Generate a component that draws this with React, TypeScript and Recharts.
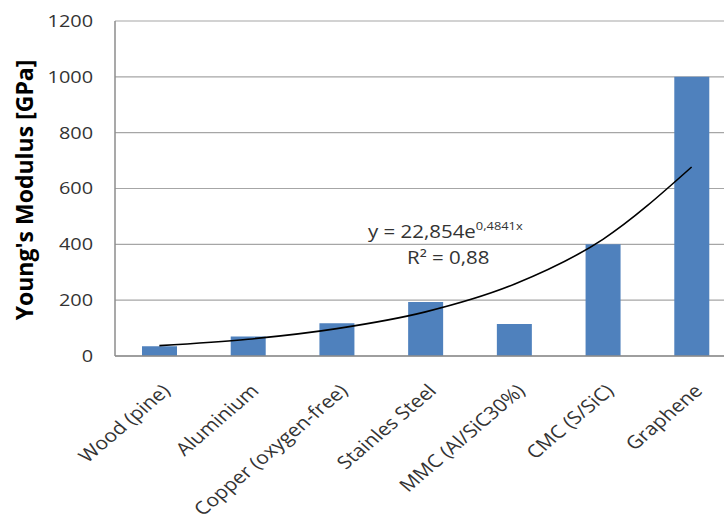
import { ComposedChart, Bar, Line, XAxis, YAxis, CartesianGrid } from 'recharts';

const MATERIALS = [
    'Wood (pine)',
    'Aluminium',
    'Copper (oxygen-free)',
    'Stainles Steel',
    'MMC (Al/SiC30%)',
    'CMC (S/SiC)',
    'Graphene',
];
const MODULUS = [35, 70, 117, 193, 115, 400, 1000];
// exponential trendline as drawn on the chart (read at each category)
const TREND = [37, 60, 98, 158, 257, 418, 677];
const Y_TICKS = [0, 200, 400, 600, 800, 1000, 1200];

const FONT = '"Open Sans", "Noto Sans", sans-serif';
const TEXT = '#333';
// the source picture is slightly stretched sideways
const SX = 1.17;

const data = MATERIALS.map((name, i) => ({ name, modulus: MODULUS[i], trend: TREND[i] }));

const XTick = ({ x, y, payload }: any) => (
    <text
        x={0}
        y={0}
        textAnchor="end"
        transform={`translate(${x + 12}, ${y + 28}) scale(${SX}, 1) rotate(-45)`}
        fill={TEXT}
        fontSize={18}
        fontFamily={FONT}
    >
        {payload.value}
    </text>
);

const YTick = ({ x, y, payload }: any) => (
    <text
        x={0}
        y={0}
        dy="0.35em"
        textAnchor="end"
        transform={`translate(${x}, ${y}) scale(${SX}, 1)`}
        fill={TEXT}
        fontSize={17}
        fontFamily={FONT}
    >
        {payload.value}
    </text>
);

const YLabel = () => (
    <text
        x={33}
        y={190}
        textAnchor="middle"
        transform="rotate(-90, 33, 190)"
        fill="#000"
        fontSize={23}
        fontWeight="bold"
        fontFamily={FONT}
    >
        Young's Modulus [GPa]
    </text>
);

export default function App() {
    return (
        <div style={{ position: 'fixed', left: 0, top: 0, width: 724, height: 527, overflow: 'hidden', background: '#fff' }}>
            <ComposedChart
                width={760}
                height={527}
                data={data}
                margin={{ top: 21, right: 24, bottom: 0, left: 0 }}
            >
                <CartesianGrid vertical={false} stroke="#a6a6a6" strokeWidth={1.2} />
                <XAxis
                    dataKey="name"
                    height={171}
                    interval={0}
                    tickLine={false}
                    axisLine={{ stroke: '#8c8c8c', strokeWidth: 1.5 }}
                    tick={<XTick />}
                />
                <YAxis
                    width={115}
                    domain={[0, 1200]}
                    ticks={Y_TICKS}
                    tickLine={false}
                    axisLine={{ stroke: '#8c8c8c', strokeWidth: 1.5 }}
                    tickMargin={16}
                    tick={<YTick />}
                    label={<YLabel />}
                />
                <Bar dataKey="modulus" fill="#4f81bd" barSize={35} isAnimationActive={false} />
                <Line
                    dataKey="trend"
                    type="monotone"
                    stroke="#000"
                    strokeWidth={1.6}
                    dot={false}
                    isAnimationActive={false}
                />
            </ComposedChart>
            <svg
                width={724}
                height={527}
                style={{ position: 'absolute', left: 0, top: 0, pointerEvents: 'none' }}
            >
                <g transform={`translate(368, 238) scale(${SX}, 1)`} fill={TEXT} fontFamily={FONT} fontSize={17.5}>
                    <text x={0} y={0}>
                        y = 22,854e
                        <tspan fontSize={11} dy={-8}>0,4841x</tspan>
                    </text>
                </g>
                <g transform={`translate(407, 264) scale(${SX}, 1)`} fill={TEXT} fontFamily={FONT} fontSize={17.5}>
                    <text x={0} y={0}>R² = 0,88</text>
                </g>
            </svg>
        </div>
    );
}
